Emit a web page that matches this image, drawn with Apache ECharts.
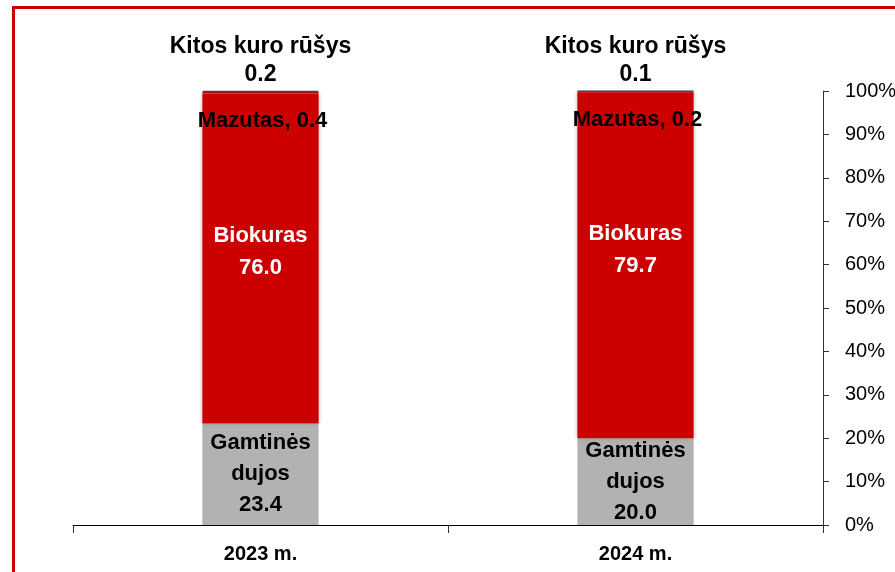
<!DOCTYPE html>
<html>
<head>
<meta charset="utf-8">
<script src="https://cdn.jsdelivr.net/npm/echarts@6/dist/echarts.min.js"></script>
<style>
  html, body { margin: 0; padding: 0; background: #fff; }
  #chart { width: 895px; height: 572px; }
</style>
</head>
<body>
<div id="chart"></div>
<script>
// duomenys
const categories = ['2023 m.', '2024 m.']
const gamtinesDujos = [23.4, 20.0]
const biokuras = [76.0, 79.7]
const mazutas = [0.4, 0.2]
const kitos = [0.2, 0.1]
const yTicks = [0, 10, 20, 30, 40, 50, 60, 70, 80, 90, 100]

const FONT = "'Liberation Sans Narrow', 'Arial Narrow', 'Liberation Sans', sans-serif"

const chart = echarts.init(document.getElementById('chart'))

const option = {
  animation: false,
  backgroundColor: '#fff',
  textStyle: { fontFamily: FONT },
  grid: { left: 73, right: 72, top: 91, bottom: 47, outerBoundsMode: 'none', containLabel: false },
  graphic: [{
    type: 'rect',
    shape: { x: 13.5, y: 7.5, width: 1000, height: 1000 },
    style: { fill: 'none', stroke: '#cc0000', lineWidth: 3 },
    silent: true
  }],
  xAxis: {
    type: 'category',
    data: categories,
    axisLine: { lineStyle: { color: '#000', width: 1 } },
    axisTick: { show: true, length: 8, lineStyle: { color: '#333' } },
    axisLabel: { color: '#000', fontWeight: 'bold', fontSize: 20, margin: 19, fontFamily: FONT }
  },
  yAxis: {
    type: 'value',
    position: 'right',
    min: yTicks[0],
    max: yTicks[yTicks.length - 1],
    interval: 10,
    splitLine: { show: false },
    axisLine: { show: true, lineStyle: { color: '#333' } },
    axisTick: { show: true, inside: false, length: 6, lineStyle: { color: '#333' } },
    axisLabel: { color: '#000', fontSize: 20, margin: 22, formatter: '{value}%', fontFamily: FONT }
  },
  series: [
    {
      name: 'Gamtinės dujos',
      type: 'bar',
      stack: 'kuras',
      barWidth: '31%',
      data: gamtinesDujos,
      itemStyle: { color: '#b2b2b2' },
      label: {
        show: true,
        position: 'inside',
        offset: [0, 0],
        color: '#000',
        fontWeight: 'bold',
        fontSize: 22,
        lineHeight: 31,
        fontFamily: FONT,
        formatter: p => 'Gamtinės\ndujos\n' + p.value.toFixed(1)
      }
    },
    {
      name: 'Biokuras',
      type: 'bar',
      stack: 'kuras',
      data: biokuras,
      itemStyle: { color: '#cc0000', shadowColor: 'rgba(0,0,0,0.25)', shadowBlur: 4 },
      label: {
        show: true,
        position: 'insideTop',
        distance: 0,
        offset: [0, 126],
        color: '#fff',
        fontWeight: 'bold',
        fontSize: 22,
        lineHeight: 32,
        fontFamily: FONT,
        formatter: p => 'Biokuras\n' + p.value.toFixed(1)
      }
    },
    {
      name: 'Mazutas',
      type: 'bar',
      stack: 'kuras',
      data: mazutas,
      itemStyle: { color: '#cc0000' },
      label: {
        show: true,
        position: 'inside',
        offset: [2, 28],
        color: '#000',
        fontWeight: 'bold',
        fontSize: 22,
        fontFamily: FONT,
        formatter: p => 'Mazutas, ' + p.value.toFixed(1)
      }
    },
    {
      name: 'Kitos kuro rūšys',
      type: 'bar',
      stack: 'kuras',
      data: kitos,
      itemStyle: { color: '#333', borderColor: '#444', borderWidth: 1.5 },
      label: {
        show: true,
        position: 'top',
        distance: 2,
        color: '#000',
        fontWeight: 'bold',
        fontSize: 23,
        lineHeight: 28,
        fontFamily: FONT,
        formatter: p => 'Kitos kuro rūšys\n' + p.value.toFixed(1)
      }
    }
  ]
}

chart.setOption(option)
window.addEventListener('resize', () => chart.resize())
</script>
</body>
</html>
